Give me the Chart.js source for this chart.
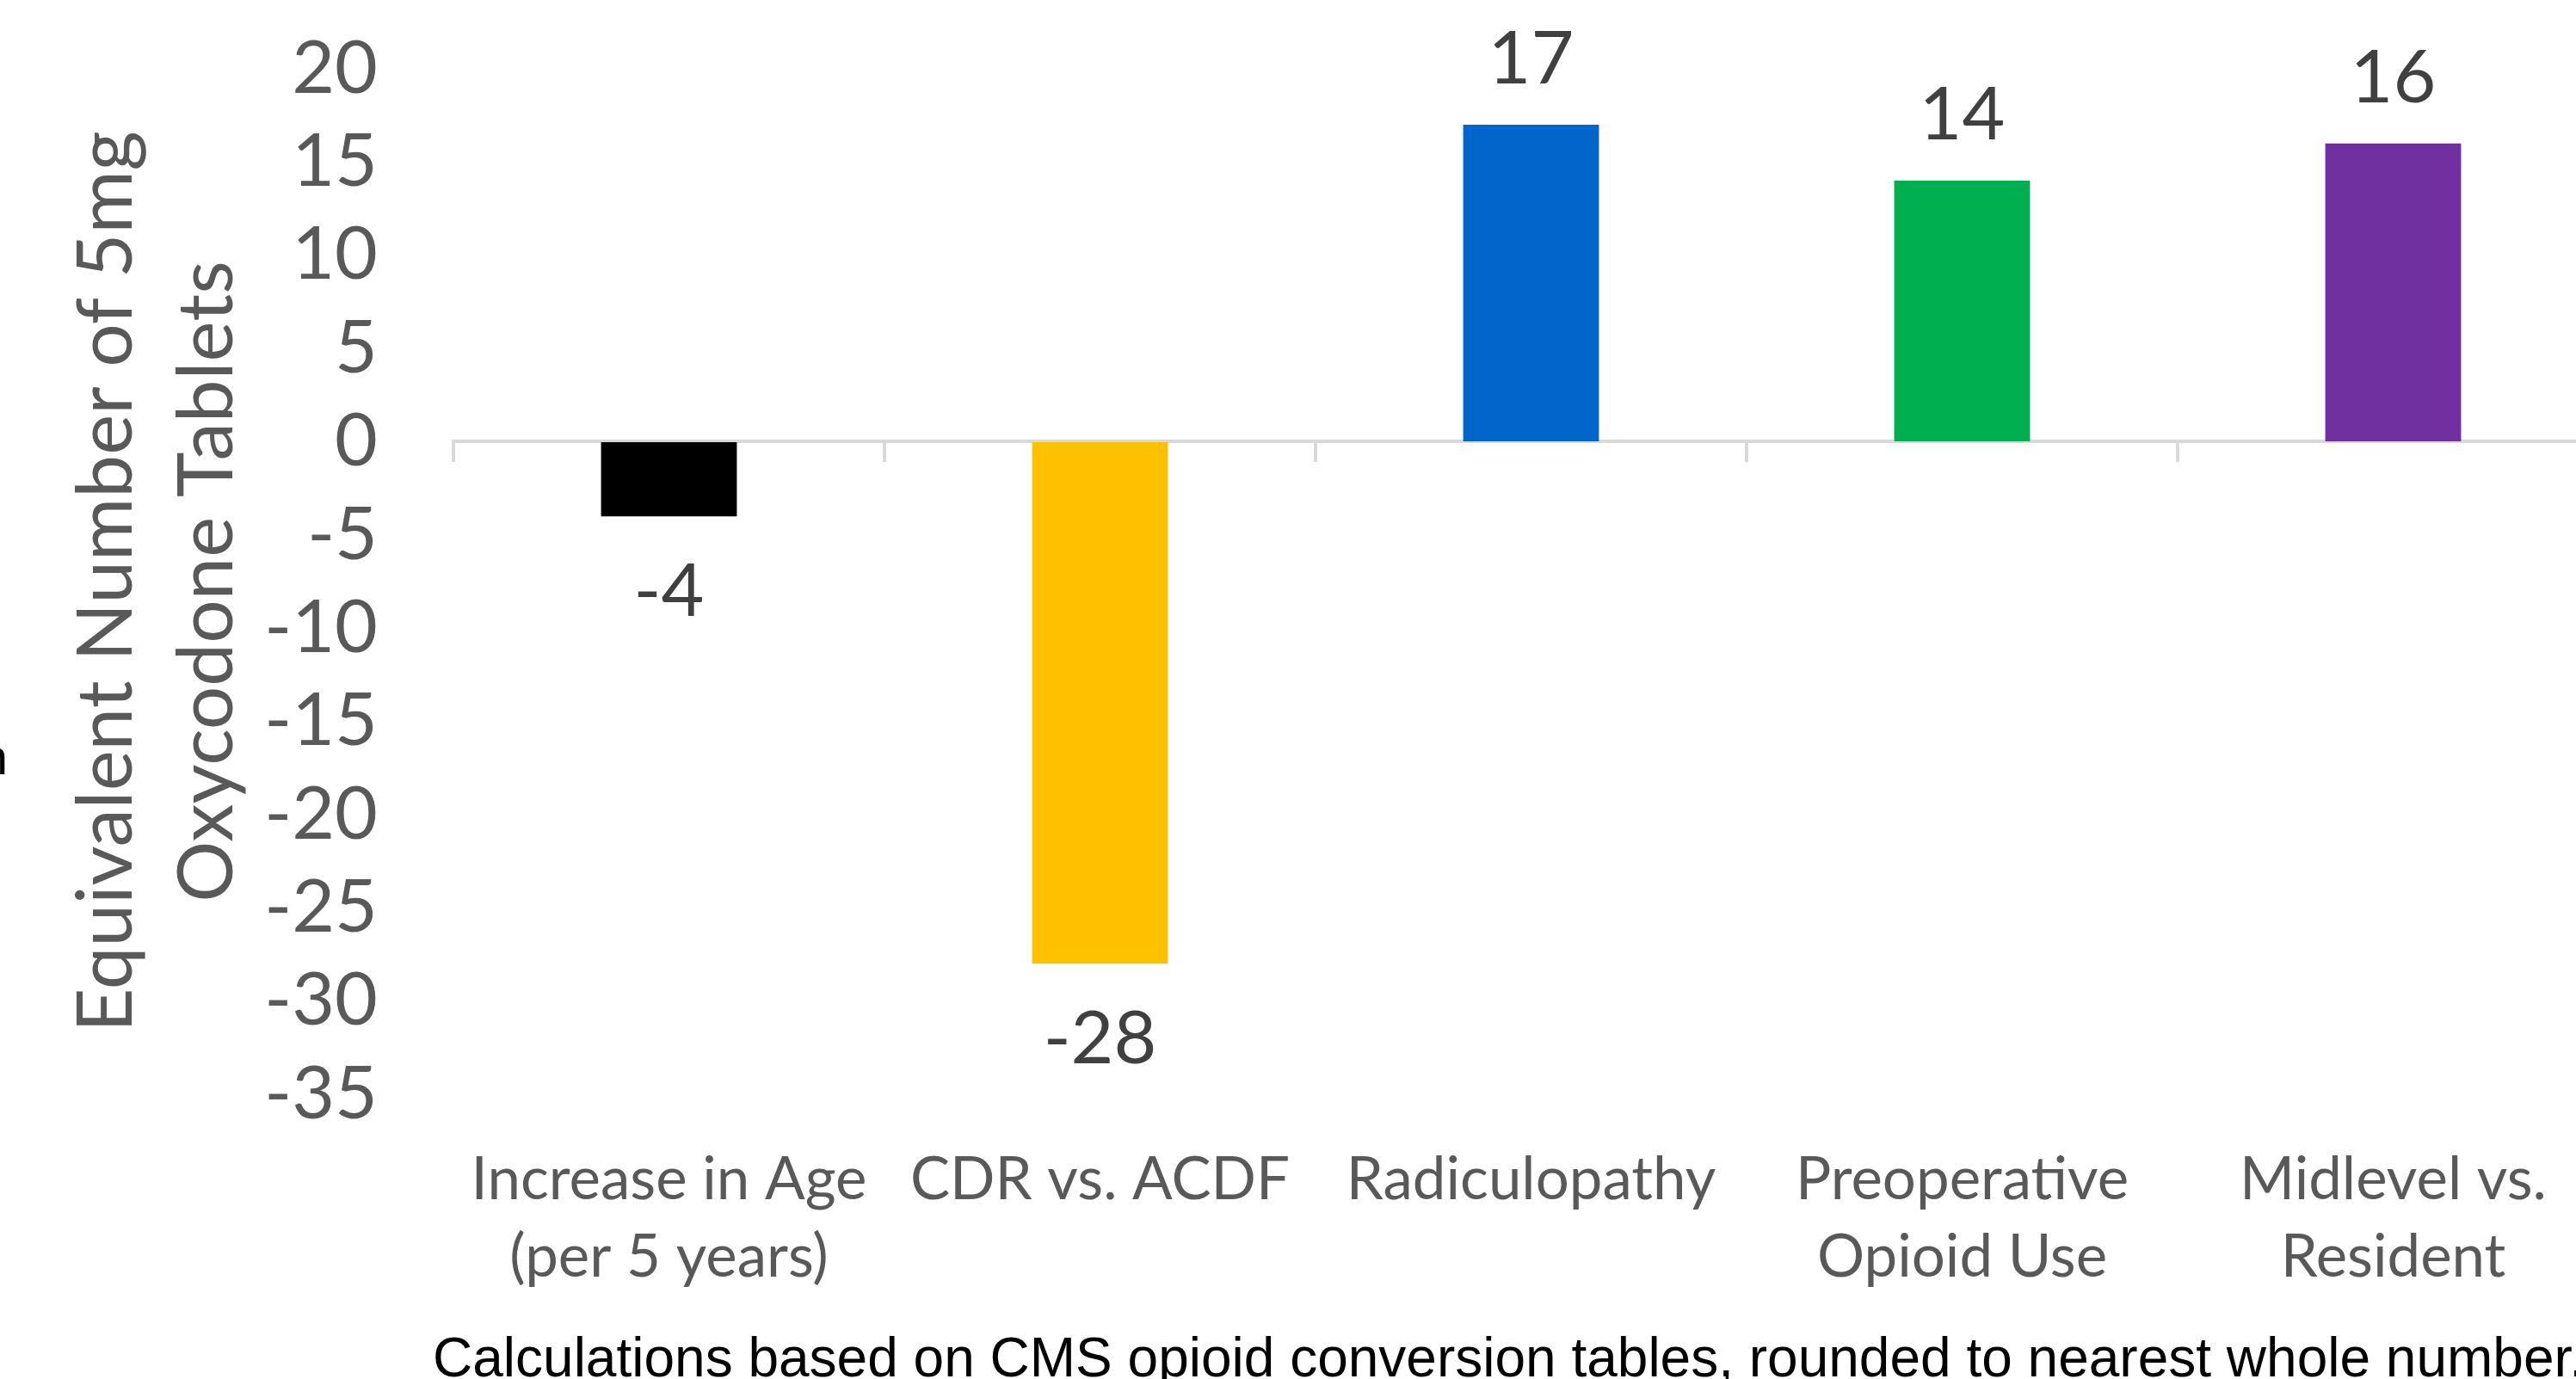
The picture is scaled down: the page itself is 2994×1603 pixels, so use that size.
<!DOCTYPE html>
<html>
<head>
<meta charset="utf-8">
<title>Equivalent Number of 5mg Oxycodone Tablets</title>
<script src="https://cdn.jsdelivr.net/npm/chart.js@4.4.1/dist/chart.umd.min.js"></script>
<style>
  html, body { margin: 0; padding: 0; background: #ffffff; overflow: hidden; }
  #chartOpioid { display: block; }
</style>
</head>
<body>
<canvas id="chartOpioid" width="3040" height="1603"></canvas>
<script>
/*** data ***/
const categories = [
  ['Increase in Age', '(per 5 years)'],
  'CDR vs. ACDF',
  'Radiculopathy',
  ['Preoperative', 'Opioid Use'],
  ['Midlevel vs.', 'Resident'],
];
const tabletValues = [-4, -28, 17, 14, 16];
const barColors = ['#000000', '#FFC000', '#0066CC', '#00B050', '#7030A0'];
const yTitle = ['Equivalent Number of 5mg', 'Oxycodone Tablets'];
const yMin = -35;
const yMax = 20;
const yStep = 5;
const footnote =
  'Calculations based on CMS opioid conversion tables, rounded to nearest whole number.';

// value labels above / below each bar
const barLabels = {
  id: 'barLabels',
  afterDatasetsDraw(chart) {
    const ctx = chart.ctx;
    const meta = chart.getDatasetMeta(0);
    ctx.save();
    ctx.font = '86px Lato';
    ctx.fillStyle = '#404040';
    ctx.textAlign = 'center';
    ctx.textBaseline = 'alphabetic';
    meta.data.forEach((bar, i) => {
      const v = tabletValues[i];
      const y = v >= 0 ? bar.y - 48 : bar.y + 116;
      ctx.fillText(String(v), bar.x, y);
    });
    ctx.restore();
  },
};

// footnote under the chart + the clipped letter on the left edge
const extraText = {
  id: 'extraText',
  afterDraw(chart) {
    const ctx = chart.ctx;
    ctx.save();
    ctx.fillStyle = '#000000';
    ctx.textBaseline = 'alphabetic';
    ctx.font = '64px "Liberation Sans"';
    ctx.textAlign = 'left';
    ctx.fillText(footnote, 503, 1600);
    ctx.font = '58px "Liberation Sans"';
    ctx.textAlign = 'right';
    ctx.fillText('n', 9, 900);
    ctx.restore();
  },
};

new Chart(document.getElementById('chartOpioid'), {
  type: 'bar',
  data: {
    labels: categories,
    datasets: [
      {
        label: '',
        data: tabletValues,
        backgroundColor: barColors,
        borderWidth: 0,
        xAxisID: 'x',
        yAxisID: 'y',
        categoryPercentage: 1,
        barPercentage: 0.315,
      },
    ],
  },
  options: {
    responsive: false,
    animation: false,
    layout: {
      padding: { left: 66, top: 80, right: 8, bottom: 86 },
    },
    plugins: {
      legend: { display: false },
      tooltip: { enabled: false },
    },
    scales: {
      x: {
        type: 'category',
        position: 'bottom',
        offset: true,
        grid: { display: false, drawTicks: false },
        border: { display: false },
        ticks: {
          color: '#595959',
          font: { family: 'Lato', size: 69, lineHeight: '90px' },
          padding: 55,
          maxRotation: 0,
          autoSkip: false,
        },
        afterFit: (scale) => {
          scale.height = 245;
        },
      },
      // zero line with tick marks between categories
      x2: {
        type: 'category',
        labels: categories,
        position: { y: 0 },
        offset: true,
        grid: {
          offset: true,
          drawOnChartArea: false,
          drawTicks: true,
          tickLength: 22,
          color: '#D9D9D9',
          lineWidth: 4,
        },
        border: { display: true, color: '#D9D9D9', width: 4 },
        ticks: { display: false },
      },
      y: {
        min: yMin,
        max: yMax,
        // invisible tick marks keep the labels away from the plot
        grid: {
          display: true,
          drawOnChartArea: false,
          drawTicks: true,
          tickLength: 88,
          color: 'rgba(0,0,0,0)',
        },
        border: { display: false },
        ticks: {
          stepSize: yStep,
          autoSkip: false,
          color: '#595959',
          font: { family: 'Lato', size: 86 },
          padding: 0,
        },
        title: {
          display: true,
          text: yTitle,
          color: '#595959',
          font: { family: 'Lato', size: 89, lineHeight: '117px' },
          padding: 0,
        },
        afterFit: (scale) => {
          scale.width = 461;
        },
      },
    },
  },
  plugins: [barLabels, extraText],
});
</script>
</body>
</html>
